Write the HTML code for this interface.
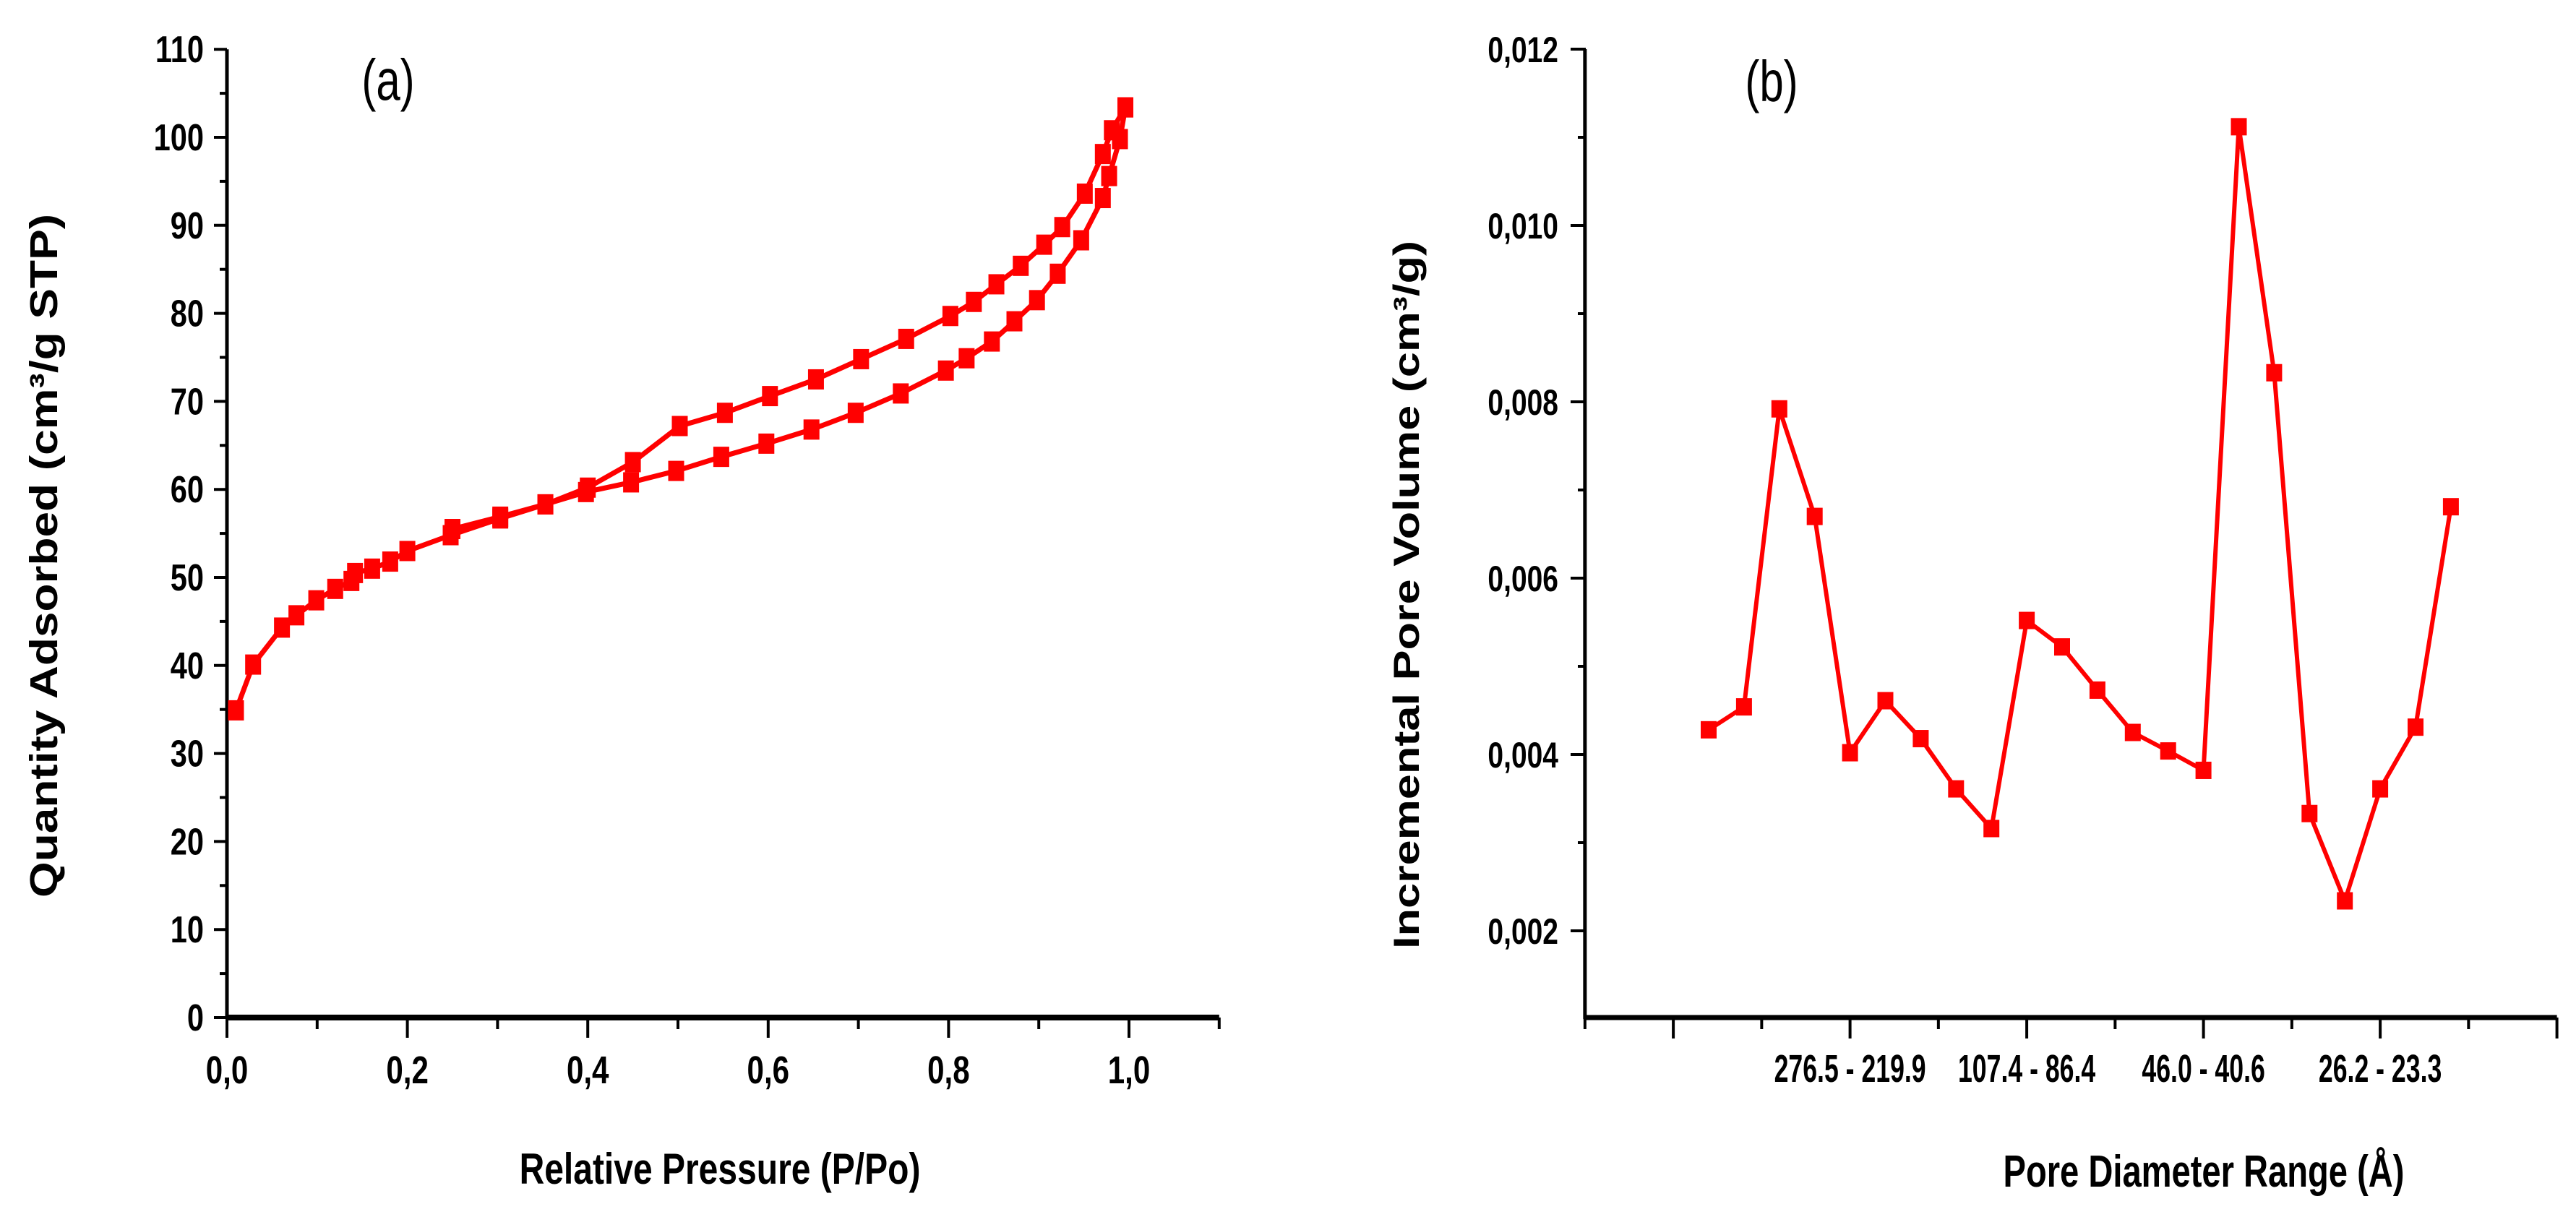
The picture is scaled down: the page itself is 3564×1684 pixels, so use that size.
<!DOCTYPE html>
<html><head><meta charset="utf-8">
<style>
html,body{margin:0;padding:0;background:#fff;}
svg{display:block;font-family:"Liberation Sans",sans-serif;}
</style></head>
<body>
<svg id="fig" width="3564" height="1684" viewBox="0 0 3564 1684" xmlns="http://www.w3.org/2000/svg">
<rect width="3564" height="1684" fill="#fff"/>
<g id="pa"></g>
<g id="pb"></g>
</svg>
<script>
// ---- Panel (a) data ----
const adsP = [0.01,0.029,0.061,0.077,0.099,0.12,0.138,0.142,0.161,0.181,0.20,0.248,0.303,0.353,0.398,0.448,0.498,0.548,0.598,0.648,0.697,0.747,0.797,0.82,0.848,0.873,0.898,0.921,0.947,0.971,0.978,0.99,0.996];
const adsQ = [34.9,40.1,44.3,45.7,47.4,48.7,49.6,50.5,51.0,51.8,53.0,54.8,56.7,58.3,59.7,60.8,62.1,63.7,65.2,66.8,68.7,70.9,73.5,74.9,76.8,79.1,81.5,84.5,88.3,93.1,95.6,99.8,103.4];
const desP = [0.996,0.981,0.971,0.951,0.926,0.906,0.88,0.853,0.828,0.802,0.753,0.703,0.653,0.602,0.552,0.502,0.45,0.40,0.353,0.303,0.25];
const desQ = [103.4,100.8,98.1,93.6,89.8,87.8,85.4,83.3,81.3,79.7,77.1,74.8,72.5,70.6,68.7,67.2,63.1,60.2,58.3,56.9,55.5];
const aXTicks = [0,0.2,0.4,0.6,0.8,1.0];
const aXTickLabels = ["0,0","0,2","0,4","0,6","0,8","1,0"];
const aYTicks = [0,10,20,30,40,50,60,70,80,90,100,110];
// ---- Panel (b) data ----
const bValues = [0.00428,0.00454,0.00792,0.0067,0.00402,0.00461,0.00418,0.00361,0.00316,0.00552,0.00522,0.00473,0.00425,0.00404,0.00382,0.01112,0.00833,0.00333,0.00234,0.00361,0.00431,0.00681];
const bYTicks = [0.002,0.004,0.006,0.008,0.010,0.012];
const bYTickLabels = ["0,002","0,004","0,006","0,008","0,010","0,012"];
const bCatLabels = ["276.5 - 219.9","107.4 - 86.4","46.0 - 40.6","26.2 - 23.3"];
const bCatLabelPos = [4,9,14,19];

const NS="http://www.w3.org/2000/svg";
function mk(parent,tag,attrs,text){const e=document.createElementNS(NS,tag);for(const k in attrs)e.setAttribute(k,attrs[k]);if(text!==undefined)e.textContent=text;parent.appendChild(e);return e;}
const RED="#ff0000";

// Panel a axes
const ax=v=>314+v*1248;
const ay=v=>1408-v*12.18;
const pa=document.getElementById('pa');
let el;
el=mk(pa,'line',{x1:314,y1:ay(110),x2:314,y2:1410,stroke:'#000','stroke-width':5});


el=mk(pa,'line',{x1:312,y1:1408,x2:ax(1.1),y2:1408,stroke:'#000','stroke-width':8});


for(let v=0;v<=110;v+=5){
  const major=v%10===0;
  el=mk(pa,'line',{x1:major?296:304,y1:ay(v),x2:314,y2:ay(v),stroke:'#000','stroke-width':4});
  
  
}
aYTicks.forEach(v=>{
  const g=mk(pa,'g',{transform:`translate(282,${ay(v)+18}) scale(0.8,1)`});
  el=mk(g,'text',{x:0,y:0,'font-size':52,'font-weight':'bold','text-anchor':'end',fill:'#000'},String(v));
  
  
});
for(let i=0;i<=11;i++){
  const v=i*0.1;const major=i%2===0;
  el=mk(pa,'line',{x1:ax(v),y1:1408,x2:ax(v),y2:major?1436:1424,stroke:'#000','stroke-width':4});
  
  
}
aXTicks.forEach((v,i)=>{
  const g=mk(pa,'g',{transform:`translate(${ax(v)},${1499}) scale(0.78,1)`});
  el=mk(g,'text',{x:0,y:0,'font-size':54,'font-weight':'bold','text-anchor':'middle',fill:'#000'},aXTickLabels[i]);
  
  
});
{
  const g=mk(pa,'g',{transform:`translate(996,1638) scale(0.8,1)`});
  el=mk(g,'text',{x:0,y:0,'font-size':60,'font-weight':'bold','text-anchor':'middle',fill:'#000'},'Relative Pressure (P/Po)');
  
  
}
el=mk(pa,'text',{x:0,y:0,'font-size':54,'font-weight':'bold','text-anchor':'middle',fill:'#000',transform:'translate(79,769) rotate(-90)',textLength:946,lengthAdjust:'spacingAndGlyphs'},'Quantity Adsorbed (cm³/g STP)');


{
  const g=mk(pa,'g',{transform:`translate(537,138) scale(0.75,1)`});
  el=mk(g,'text',{x:0,y:0,'font-size':80,'text-anchor':'middle',fill:'#000'},'(a)');
  
  
}
function series(parent,xs,ys,fx,fy,name,w,h,lw){
  const pts=xs.map((x,i)=>fx(x)+','+fy(ys[i])).join(' ');
  el=mk(parent,'polyline',{points:pts,fill:'none',stroke:RED,'stroke-width':lw,'stroke-linejoin':'round'});
  
  
  xs.forEach((x,i)=>{
    el=mk(parent,'rect',{x:fx(x)-w/2,y:fy(ys[i])-h/2,width:w,height:h,fill:RED});
    
    
  });
}
series(pa,adsP,adsQ,ax,ay,'adsorption',22,28,7);
series(pa,desP,desQ,ax,ay,'desorption',22,28,7);

// Panel b axes
const bx=i=>2364+i*48.9;
const by=v=>1288-(v-0.002)*122000;
const pb=document.getElementById('pb');
el=mk(pb,'line',{x1:bx(-3.5),y1:by(0.012),x2:bx(-3.5),y2:1410,stroke:'#000','stroke-width':5});


el=mk(pb,'line',{x1:bx(-3.5)-2,y1:1408,x2:bx(24),y2:1408,stroke:'#000','stroke-width':7});


for(let k=1;k<=11;k++){
  const v=0.001*k+0.001;
  if(v>0.0121)break;
  const major=Math.round(v*1000)%2===0;
  el=mk(pb,'line',{x1:major?2173:2183,y1:by(v),x2:2194,y2:by(v),stroke:'#000','stroke-width':4});
  
  
}
bYTicks.forEach((v,i)=>{
  const g=mk(pb,'g',{transform:`translate(2156,${by(v)+18}) scale(0.78,1)`});
  el=mk(g,'text',{x:0,y:0,'font-size':50,'font-weight':'bold','text-anchor':'end',fill:'#000'},bYTickLabels[i]);
  
  
});
for(let k=0;k<12;k++){
  const i=-3.5+2.5*k;const major=k%2===1;
  el=mk(pb,'line',{x1:bx(i),y1:1408,x2:bx(i),y2:major?1437:1424,stroke:'#000','stroke-width':4});
  
  
}
bCatLabels.forEach((t,i)=>{
  const g=mk(pb,'g',{transform:`translate(${bx(bCatLabelPos[i])},${1497}) scale(0.66,1)`});
  el=mk(g,'text',{x:0,y:0,'font-size':54,'font-weight':'bold','text-anchor':'middle',fill:'#000'},t);
  
  
});
{
  const g=mk(pb,'g',{transform:`translate(3049,1642) scale(0.76,1)`});
  el=mk(g,'text',{x:0,y:0,'font-size':62,'font-weight':'bold','text-anchor':'middle',fill:'#000'},'Pore Diameter Range (Å)');
  
  
}
el=mk(pb,'text',{x:0,y:0,'font-size':50,'font-weight':'bold','text-anchor':'middle',fill:'#000',transform:'translate(1963,823) rotate(-90)',textLength:980,lengthAdjust:'spacingAndGlyphs'},'Incremental Pore Volume (cm³/g)');


{
  const g=mk(pb,'g',{transform:`translate(2451,140) scale(0.75,1)`});
  el=mk(g,'text',{x:0,y:0,'font-size':80,'text-anchor':'middle',fill:'#000'},'(b)');
  
  
}
const bIdx=bValues.map((v,i)=>i);
series(pb,bIdx,bValues,bx,by,'pore-volume',22,24,6);
</script>
</body></html>
